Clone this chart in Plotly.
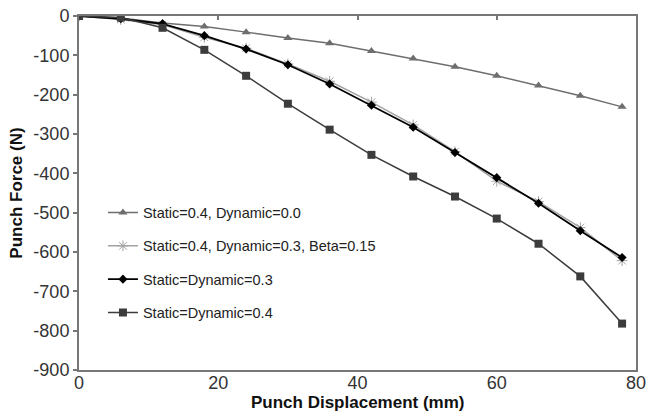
import plotly.graph_objects as go

x_mm = [0, 6, 12, 18, 24, 30, 36, 42, 48, 54, 60, 66, 72, 78]
s04_d00 = [0, -5, -18, -27, -41, -56, -69, -89, -108, -129, -152, -177, -203, -231]
s04_d03_b015 = [0, -9, -22, -54, -82, -122, -166, -219, -277, -345, -420, -472, -538, -622]
s03_d03 = [0, -7, -20, -50, -84, -124, -173, -227, -283, -347, -411, -476, -546, -614]
s04_d04 = [0, -4, -30, -86, -152, -223, -289, -353, -408, -459, -515, -579, -662, -782]

names = ["Static=0.4, Dynamic=0.0", "Static=0.4, Dynamic=0.3, Beta=0.15",
         "Static=Dynamic=0.3", "Static=Dynamic=0.4"]
y_ticks = [0, -100, -200, -300, -400, -500, -600, -700, -800, -900]
y_ticktext = ["0", "-100", "-200", "-300", "-400", "-500", "-600", "-700", "-800", "-900"]
x_ticks = [0, 20, 40, 60, 80]
x_title = "Punch Displacement (mm)"
y_title = "Punch Force (N)"

FONT = "Liberation Sans"

styles = [
    dict(color="#6e6e6e", symbol="triangle-up", size=8, lw=1.5),
    dict(color="#a3a3a3", symbol="asterisk-open", size=9, lw=1.5),
    dict(color="#000000", symbol="diamond", size=7, lw=1.8),
    dict(color="#3c3c3c", symbol="square", size=8, lw=1.5),
]
series = [s04_d00, s04_d03_b015, s03_d03, s04_d04]

fig = go.Figure()
for i, (nm, ys, st) in enumerate(zip(names, series, styles)):
    marker = dict(symbol=st["symbol"], size=st["size"], color=st["color"])
    if st["symbol"] == "asterisk-open":
        marker["line"] = dict(color="#8a8a8a", width=1)
    fig.add_trace(go.Scatter(
        x=x_mm, y=ys, name=nm, mode="lines+markers",
        line=dict(color=st["color"], width=st["lw"]),
        marker=marker, legendgroup=f"g{i}",
    ))

# invisible trace for top ticks axis
fig.add_trace(go.Scatter(x=[0, 80], y=[0, 0], xaxis="x2", mode="lines",
                         line=dict(width=0), showlegend=False, hoverinfo="skip"))

fig.add_annotation(text=f"<b>{x_title}</b>", xref="paper", yref="paper",
                   x=0.5, y=0, yanchor="middle", yshift=-32, showarrow=False,
                   font=dict(family=FONT, size=17, color="#111111"))

fig.update_layout(
    width=646, height=412,
    margin=dict(l=79, r=10, t=16, b=42),
    paper_bgcolor="white", plot_bgcolor="white",
    font=dict(family=FONT, color="#333333"),
    showlegend=True,
    legend=dict(x=0.043, y=0.49, xanchor="left", yanchor="top",
                font=dict(family=FONT, size=14.5, color="#222222"),
                tracegroupgap=11.5, bgcolor="rgba(0,0,0,0)"),
    xaxis=dict(range=[0, 80], tickvals=x_ticks, showgrid=False, zeroline=False,
               showline=True, linecolor="#777777", linewidth=2, mirror=True,
               ticks="", ticklen=0, ticklabeloverflow="allow", ticklabelstandoff=-5,
               tickfont=dict(family=FONT, size=18, color="#333333"),
               automargin=False),
    xaxis2=dict(range=[0, 80], overlaying="x", side="top", tickvals=[20, 40, 60],
                ticks="inside", ticklen=4, tickcolor="#777777", tickwidth=1.5,
                showticklabels=False, showgrid=False, zeroline=False, showline=False,
                automargin=False),
    yaxis=dict(range=[-900, 0], tickvals=y_ticks, ticktext=y_ticktext,
               showgrid=False, zeroline=False, showline=True, linecolor="#777777",
               linewidth=2, mirror=True, ticks="outside", ticklen=4,
               tickcolor="#777777", tickwidth=1.5, automargin=False,
               tickfont=dict(family=FONT, size=18, color="#333333"),
               title=dict(text=f"<b>{y_title}</b>",
                          font=dict(family=FONT, size=17, color="#111111"), standoff=6)),
)

fig.write_html("out.html")
